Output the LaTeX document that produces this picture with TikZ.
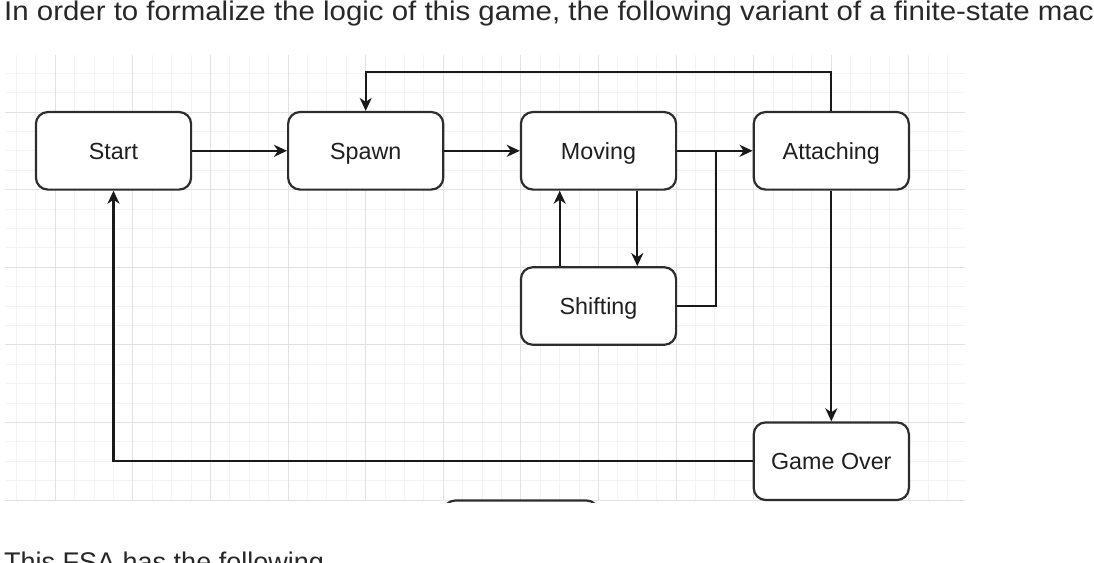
\documentclass[tikz,border=0pt]{standalone}
\usepackage{fontspec}
\setmainfont{Liberation Sans}
\usetikzlibrary{arrows.meta}
\definecolor{gridminor}{RGB}{243,243,243}
\definecolor{gridmajor}{RGB}{226,226,226}
\definecolor{boxline}{RGB}{45,45,45}
\definecolor{prose}{RGB}{40,40,40}
\begin{document}
\begin{tikzpicture}[x=1pt,y=-1pt,
  statebox/.style={draw=boxline, line width=2.2pt, rounded corners=12pt, fill=white,
    minimum width=155.2pt, minimum height=77.6pt, inner sep=0pt,
    text height=16.7pt, text depth=0pt,
    font=\fontsize{23.3}{28}\selectfont, text=black!88},
  conn/.style={draw=black!90, line width=2.2pt},
  arr/.style={conn, -{Stealth[length=13pt,width=12pt,inset=4pt]}},
  prosetext/.style={anchor=base west, inner sep=0pt, text=prose, font=\fontsize{27}{32}\selectfont},
  minorline/.style={draw=gridminor, line width=1pt},
  majorline/.style={draw=gridmajor, line width=1pt},
]
\useasboundingbox (0,0) rectangle (1094,562);
\fill[white] (0,0) rectangle (1094,562);

\node[prosetext] (intro) at (4,20) {\scalebox{1.09}[1]{In order to formalize the logic of this game, the following variant of a finite-state mac}};
\node[prosetext] (outro) at (4,571) {This FSA has the following};

\begin{scope}
\clip (0,50) rectangle (1094,502.5);
% grid
\foreach \m in {-2,...,46} {
  \pgfmathsetmacro\xx{55.3+19.4*\m}
  \draw[minorline] (\xx,55) -- (\xx,500);
}
\foreach \n in {-2,...,20} {
  \pgfmathsetmacro\yy{112+19.4*\n}
  \draw[minorline] (5,\yy) -- (965,\yy);
}
\foreach \k in {0,...,11} {
  \pgfmathsetmacro\xx{55.3+77.6*\k}
  \draw[majorline] (\xx,55) -- (\xx,500);
}
\foreach \k in {0,...,5} {
  \pgfmathsetmacro\yy{112+77.6*\k}
  \draw[majorline] (5,\yy) -- (965,\yy);
}

% states
\node[statebox] (start) at (113.5,150.8) {Start};
\node[statebox] (spawn) at (365.7,150.8) {Spawn};
\node[statebox] (moving) at (598.5,150.8) {Moving};
\node[statebox] (attaching) at (831.3,150.8) {Attaching};
\node[statebox] (shifting) at (598.5,306) {Shifting};
\node[statebox] (gameover) at (831.3,461.2) {Game Over};
\node[statebox] (partial) at (520.9,539.3) {};

\coordinate (j) at ([xshift=38.8pt]moving.east);

% connectors
\draw[arr] (start) -- (spawn);
\draw[arr] (spawn) -- (moving);
\draw[arr] (moving) -- (attaching);
\draw[arr] ([xshift=38.8pt]moving.south) -- ([xshift=38.8pt]shifting.north);
\draw[arr] ([xshift=-38.8pt]shifting.north) -- ([xshift=-38.8pt]moving.south);
\draw[conn] (shifting.east) -| (j);
\draw[arr] (attaching.north) -- ++(0,-38.8) -| (spawn.north);
\draw[arr] (attaching.south) -- (gameover.north);
\draw[arr] (gameover.west) -| (start.south);
\end{scope}
\end{tikzpicture}
\end{document}
